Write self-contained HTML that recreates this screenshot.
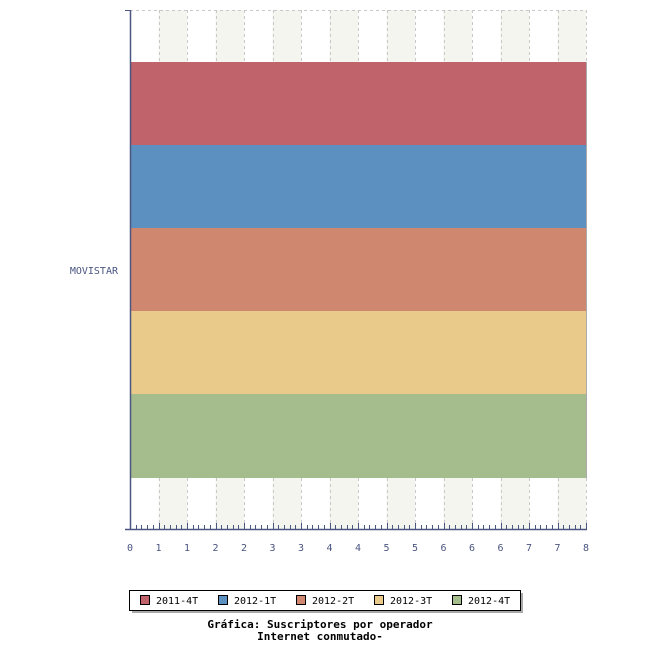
<!DOCTYPE html>
<html><head><meta charset="utf-8"><style>
html,body{margin:0;padding:0;background:#fff;}
svg{display:block;}
text{font-family:"DejaVu Sans Mono","Liberation Mono",monospace;}
</style></head><body>
<svg id="s" width="650" height="650" xmlns="http://www.w3.org/2000/svg"></svg>
<script>
const s=document.getElementById('s');let h='';
const x0=130,x1=586,y0=10,y1=529,w=(x1-x0)/16;
for(let i=0;i<16;i++){if(i%2==1)h+=`<rect x="${x0+i*w}" y="${y0}" width="${w}" height="${y1-y0}" fill="#f5f5f0"/>`;}
for(let i=1;i<=16;i++){const x=Math.round(x0+i*w)+0.5;h+=`<line x1="${x}" y1="${y0}" x2="${x}" y2="${y1}" stroke="#c8c8c8" stroke-dasharray="3,3"/>`;}
h+=`<line x1="${x0}" y1="10.5" x2="${x1}" y2="10.5" stroke="#c8c8c8" stroke-dasharray="3,3"/>`;
const cols=['#c0636b','#5b90c0','#d0876f','#e9ca8b','#a5bd8c'];
const ys=[62,145,228,311,394,478];
for(let i=0;i<5;i++)h+=`<rect x="131" y="${ys[i]}" width="455" height="${ys[i+1]-ys[i]}" fill="${cols[i]}"/>`;
h+=`<line x1="586.5" y1="62" x2="586.5" y2="478" stroke="#aaa"/>`;
h+=`<line x1="130.5" y1="10" x2="130.5" y2="530" stroke="#4a5580" stroke-width="1.5"/>`;
h+=`<line x1="125" y1="10.5" x2="131" y2="10.5" stroke="#4a5580"/>`;
h+=`<line x1="125" y1="529.5" x2="587" y2="529.5" stroke="#4a5580" stroke-width="1.5"/>`;
for(let i=0;i<=80;i++){const x=Math.round(x0+i*w/5)+0.5;const big=i%5==0;h+=`<line x1="${x}" y1="${big?523:525}" x2="${x}" y2="529" stroke="#4a5580"/>`;}
const labs=['0','1','1','2','2','3','3','4','4','5','5','6','6','6','7','7','8'];
labs.forEach((l,i)=>{h+=`<text x="${x0+i*w}" y="551" font-size="10" fill="#4a5580" text-anchor="middle">${l}</text>`;});
h+=`<text x="118" y="274" font-size="10" fill="#4a5580" text-anchor="end">MOVISTAR</text>`;
h+=`<rect x="132" y="593" width="391" height="20" fill="#aaa"/><rect x="129.5" y="590.5" width="391" height="20" fill="#fff" stroke="#000"/>`;
const ln=['2011-4T','2012-1T','2012-2T','2012-3T','2012-4T'];
ln.forEach((l,i)=>{const x=140+i*78;h+=`<rect x="${x}.5" y="595.5" width="9" height="9" fill="${cols[i]}" stroke="#000"/><text x="${x+16}" y="604" font-size="10" fill="#000">${l}</text>`;});
h+=`<text x="320" y="628" font-size="11" font-weight="bold" text-anchor="middle">Gráfica: Suscriptores por operador</text>`;
h+=`<text x="320" y="640" font-size="11" font-weight="bold" text-anchor="middle">Internet conmutado-</text>`;
s.innerHTML=h;
</script>
</body></html>
